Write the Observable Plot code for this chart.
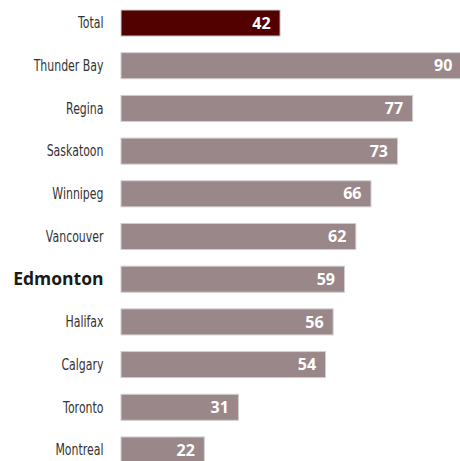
<!DOCTYPE html>
<html>
<head>
<meta charset="utf-8">
<script src="https://cdn.jsdelivr.net/npm/d3@7"></script>
<script src="https://cdn.jsdelivr.net/npm/@observablehq/plot@0.6"></script>
<style>
  html, body { margin: 0; padding: 0; background: #fff; }
  #chart { width: 460px; height: 461px; overflow: hidden; }
</style>
</head>
<body>
<div id="chart"></div>
<script>
const cities = ["Total", "Thunder Bay", "Regina", "Saskatoon", "Winnipeg", "Vancouver", "Edmonton", "Halifax", "Calgary", "Toronto", "Montreal"];
const values = [42, 90, 77, 73, 66, 62, 59, 56, 54, 31, 22];
const highlight = "Edmonton";
const totalLabel = "Total";

const data = cities.map((c, i) => ({city: c, value: values[i]}));

const chart = Plot.plot({
  width: 460,
  height: 461,
  marginLeft: 121,
  marginRight: 0,
  marginTop: 0,
  marginBottom: 0,
  x: {domain: [0, 89.5], axis: null},
  y: {domain: cities, range: [10, 463], paddingInner: 0.39, paddingOuter: 0, round: false, axis: null},
  style: {background: "#fff"},
  marks: [
    Plot.barX(data, {
      y: "city",
      x: "value",
      fill: d => d.city === totalLabel ? "#520000" : "#9a878a",
      stroke: "#cfcfcf",
      strokeWidth: 1
    }),
    Plot.text(data, {
      y: "city",
      x: "value",
      text: d => String(d.value),
      textAnchor: "end",
      dx: -10,
      fill: "#fff",
      fontWeight: "bold",
      fontSize: 16,
      fontFamily: "'Open Sans', 'DejaVu Sans', sans-serif"
    }),
    Plot.text(data.filter(d => d.city !== highlight), {
      y: "city",
      x: 0,
      text: "city",
      textAnchor: "end",
      dx: -18,
      fill: "#333",
      fontSize: 15,
      fontFamily: "'DejaVu Sans', sans-serif"
    }),
    Plot.text(data.filter(d => d.city === highlight), {
      y: "city",
      x: 0,
      text: "city",
      textAnchor: "end",
      dx: -18,
      fill: "#1a1a1a",
      fontWeight: "bold",
      fontSize: 17.5,
      fontFamily: "'Open Sans', 'DejaVu Sans', sans-serif"
    })
  ]
});
// narrow the regular category labels to mimic a condensed face
const textGroups = chart.querySelectorAll('g[aria-label="text"]');
if (textGroups[1]) {
  textGroups[1].querySelectorAll("text").forEach(t => {
    const tr = t.getAttribute("transform") || "";
    t.setAttribute("transform", tr + " scale(0.73,1)");
  });
}
document.getElementById("chart").appendChild(chart);
</script>
</body>
</html>
